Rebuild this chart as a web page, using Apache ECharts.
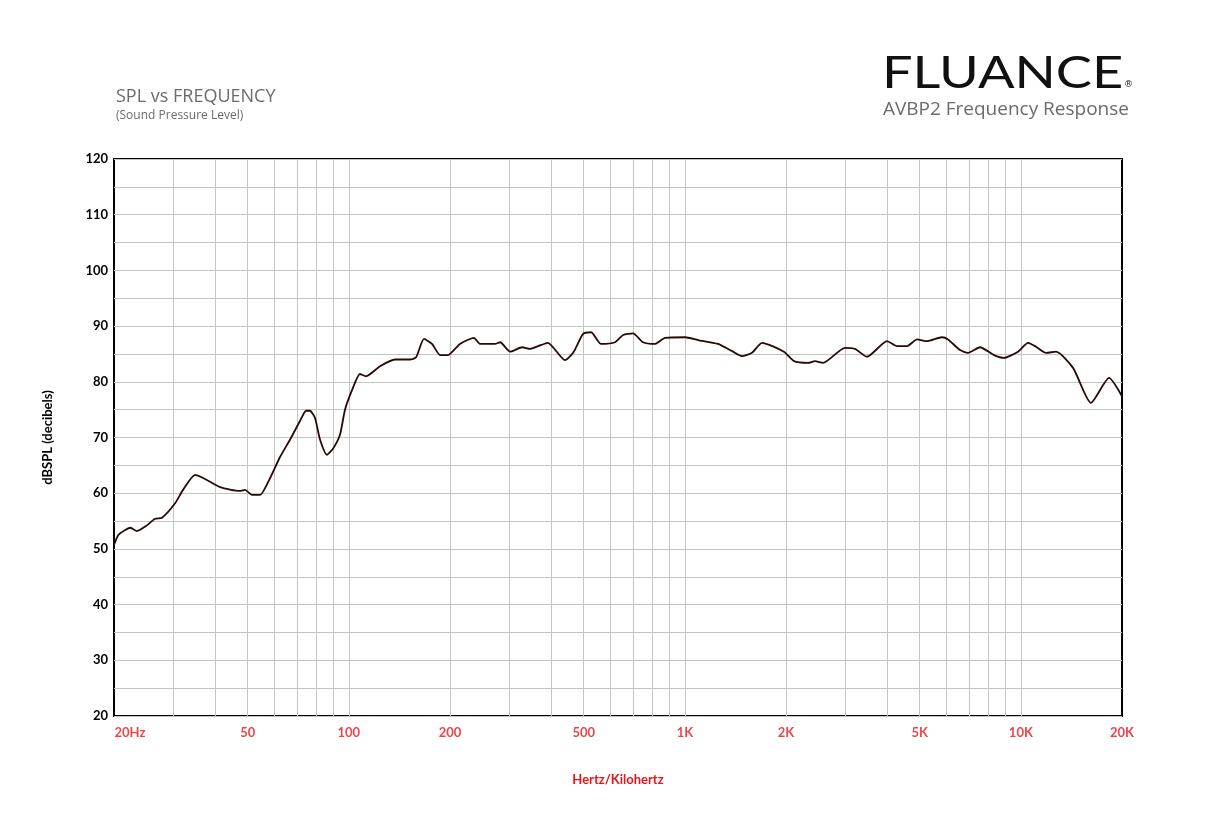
<!DOCTYPE html>
<html><head><meta charset="utf-8">
<script src="https://cdn.jsdelivr.net/npm/echarts@6/dist/echarts.min.js"></script>
<style>html,body{margin:0;padding:0;background:#fff}#c{width:1209px;height:817px}</style>
</head><body><div id="c"></div>
<script>
const freqs = [20,20.6,21.6,22.4,23.4,24.9,26.5,27.8,30.4,32.1,34.9,41.4,47.4,49.1,51.5,54.4,57.5,62.4,66.8,71.6,74.6,76.6,79.3,82.1,86.1,89.7,94.1,97.4,102.2,107.9,112.5,123.8,137.2,152.1,158.5,167.4,176.8,186.9,197.2,214.1,235.7,245.6,272.2,
282,302,328,346,366,391,440,465,498,526,563,620,655,701,751,815,873,1001,1094,1255,1382,1479,1584,1697,1972,2113,2326,2440,2578,2996,3210,3484,3997,4281,4585,4910,5259,5826,6071,6592,6963,7560,8318,8912,9806,10502,11092,11881,12725,14300,16172,18298,20000];
const spl = [50.7,52.5,53.4,53.8,53.2,54.1,55.4,55.6,58.2,60.6,63.3,61.1,60.4,60.6,59.7,59.7,62.0,66.5,69.6,73.0,74.8,74.8,73.5,69.6,66.9,68.0,70.5,75.0,78.5,81.4,81.0,82.8,84.0,84.0,84.4,87.7,86.8,84.8,84.8,86.8,87.9,86.8,86.8,
87.1,85.4,86.2,85.9,86.4,87.0,83.9,85.2,88.6,88.9,86.8,87.1,88.4,88.7,87.1,86.8,87.9,88.0,87.5,86.8,85.5,84.6,85.2,87.0,85.4,83.7,83.4,83.7,83.4,86.1,85.9,84.5,87.3,86.4,86.4,87.6,87.3,88.0,87.6,85.7,85.2,86.2,84.8,84.3,85.4,87.0,86.3,85.2,85.4,82.5,76.2,80.7,77.4];
const gridFreqs = [30,40,50,60,70,80,90,100,200,300,400,500,600,700,800,900,1000,2000,3000,4000,5000,6000,7000,8000,9000,10000];
const tickFreqs = [20,50,100,200,500,1000,2000,5000,10000,20000];
const tickLabels = ['20Hz','50','100','200','500','1K','2K','5K','10K','20K'];

const chart = echarts.init(document.getElementById('c'));
const data = freqs.map((f,i)=>[f,spl[i]]);
const gridLines = gridFreqs.map(f=>({xAxis:f, lineStyle:{color:'#c4c4c4',width:1,type:'solid'}, label:{show:false}}));
const tickData = tickFreqs.map((f,i)=>({value:[f,20],label:{formatter:tickLabels[i],offset:[i===0?16:0,0]}}));
chart.setOption({
  animation:false,
  grid:{left:114,right:87,top:159,bottom:101,show:true,borderColor:'#000',borderWidth:2},
  xAxis:{type:'log',logBase:10,min:20,max:20000,axisLine:{show:false},axisTick:{show:false},axisLabel:{show:false},splitLine:{show:false},
    name:'Hertz/Kilohertz',nameLocation:'middle',nameGap:57,nameTextStyle:{color:'#e8141c',fontFamily:'Lato',fontWeight:'bold',fontSize:13}},
  yAxis:{type:'value',min:20,max:120,interval:10,axisLine:{show:false},axisTick:{show:false},
    axisLabel:{color:'#000',fontFamily:'Lato',fontWeight:'bold',fontSize:13,margin:6},
    splitLine:{lineStyle:{color:'#c4c4c4'}},minorTick:{show:false,splitNumber:2},minorSplitLine:{show:true,lineStyle:{color:'#c4c4c4'}},
    name:'dBSPL (decibels)',nameLocation:'middle',nameGap:60,nameRotate:90,nameTextStyle:{color:'#000',fontFamily:'Lato',fontWeight:'bold',fontSize:13}},
  graphic:[
    {type:'text',left:116,top:88,style:{text:'SPL vs FREQUENCY',fill:'#6b6b6b',font:'18px "Open Sans"'}},
    {type:'text',left:116,top:110,style:{text:'(Sound Pressure Level)',fill:'#6b6b6b',font:'12px "Open Sans"'}},
    {type:'text',x:882,y:52,scaleX:1.23,style:{text:'FLUANCE',fill:'#111',font:'44px "Lato"',verticalAlign:'top',align:'left'}},
    {type:'text',left:1124,top:80,style:{text:'®',fill:'#111',font:'9px "DejaVu Sans"'}},
    {type:'text',right:80,top:100,style:{text:'AVBP2 Frequency Response',fill:'#6b6b6b',font:'19px "Open Sans"'}}
  ],
  series:[
    {type:'line',data:[],silent:true,markLine:{symbol:'none',silent:true,animation:false,data:gridLines}},
    {type:'scatter',data:tickData,symbolSize:0,silent:true,clip:false,
      label:{show:true,position:'bottom',distance:10,color:'#e8141c',fontFamily:'Lato',fontWeight:'bold',fontSize:13}},
    {type:'line',data:data,showSymbol:false,smooth:0.2,lineStyle:{color:'#2a0808',width:1.8},z:5}
  ]
});
</script></body></html>
